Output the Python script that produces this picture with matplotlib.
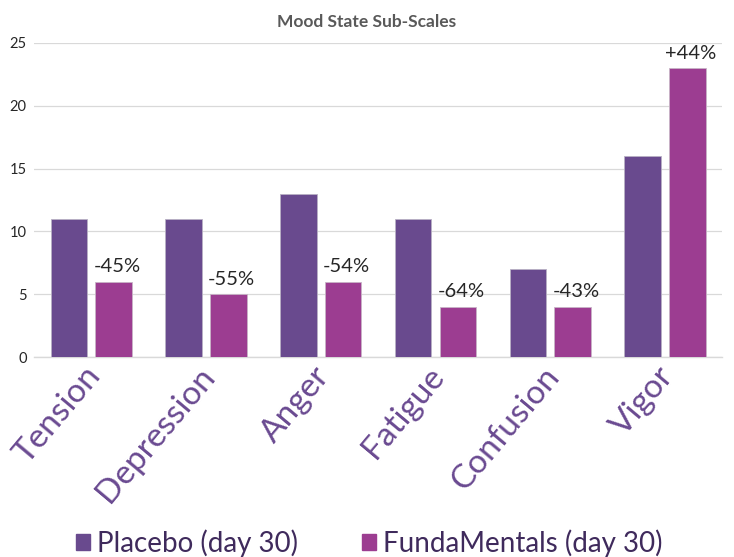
import matplotlib
matplotlib.use("Agg")
import matplotlib.pyplot as plt
import matplotlib.transforms as mtransforms
import numpy as np
from matplotlib.patches import Patch

categories = ["Tension", "Depression", "Anger", "Fatigue", "Confusion", "Vigor"]
placebo = [11, 11, 13, 11, 7, 16]
fundamentals = [6, 5, 6, 4, 4, 23]
changes = ["-45%", "-55%", "-54%", "-64%", "-43%", "+44%"]
yticks = [0, 5, 10, 15, 20, 25]

c_placebo = "#694A8E"
c_fund = "#9C3D91"
c_label = "#6A4A91"

plt.rcParams['font.family'] = ['Lato', 'DejaVu Sans']

fig = plt.figure(figsize=(7.34, 5.57), dpi=100)
ax = fig.add_axes([0.046, 0.359, 0.938, 0.564])

x = np.arange(len(categories))
w = 0.318
off = 0.195
ax.bar(x - off, placebo, w, color=c_placebo, edgecolor="#b8b0c4", linewidth=0.6, zorder=3)
ax.bar(x + off, fundamentals, w, color=c_fund, edgecolor="#c8b4c6", linewidth=0.6, zorder=3)

for xi, v, t in zip(x, fundamentals, changes):
    ax.text(xi + off + 0.03, v + 0.5, t, ha="center", va="bottom", fontsize=14.5, color="#262626")

ax.set_xlim(-0.5, len(categories) - 0.5)
ax.set_ylim(0, 25)
ax.set_yticks(yticks)
ax.set_yticklabels([str(v) for v in yticks], fontsize=10.5, color="#262626")
ax.yaxis.grid(True, color="#d9d9d9", linewidth=0.9, zorder=0)
ax.set_axisbelow(True)
for s in ["top", "right", "left"]:
    ax.spines[s].set_visible(False)
ax.spines["bottom"].set_color("#d9d9d9")
ax.spines["bottom"].set_linewidth(1.0)
ax.tick_params(axis="y", length=0, pad=5)
ax.tick_params(axis="x", length=0, pad=3)
ax.set_xticks(x)
ax.set_xticklabels(categories, rotation=50, ha="right", rotation_mode="anchor",
                   fontsize=24, color=c_label)
shift = mtransforms.ScaledTranslation(-8 / 100, 0, fig.dpi_scale_trans)
for lbl in ax.get_xticklabels():
    lbl.set_transform(lbl.get_transform() + shift)

fig.text(0.5, 0.96, "Mood State Sub-Scales", ha="center", va="center",
         fontsize=12.5, fontweight="bold", color="#595959")

handles = [Patch(color=c_placebo, label="Placebo (day 30)"),
           Patch(color=c_fund, label="FundaMentals (day 30)")]
fig.legend(handles=handles, loc="center", bbox_to_anchor=(0.503, 0.025), ncol=2,
           frameon=False, fontsize=20, labelcolor="#3F2A5C",
           handlelength=0.5, handleheight=0.5, handletextpad=0.25, columnspacing=2.3)

fig.savefig("out.png", dpi=100)
